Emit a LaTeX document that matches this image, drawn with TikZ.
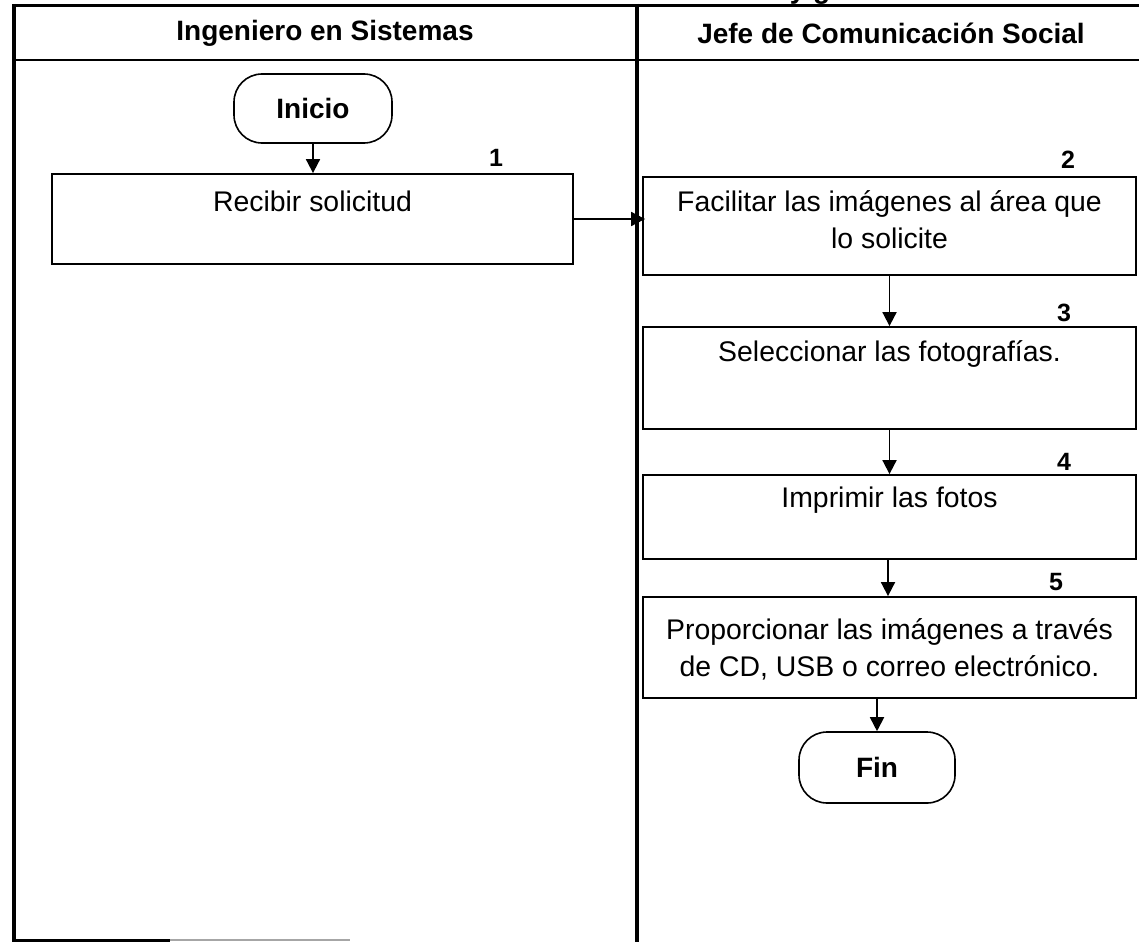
\documentclass[tikz,border=0pt]{standalone}
\usepackage{fontspec}
\setmainfont{Liberation Sans}
\usetikzlibrary{arrows.meta}
\begin{document}
\begin{tikzpicture}[x=1pt,y=-1pt,
  frame/.style={line width=4pt},
  thinframe/.style={line width=2pt},
  stepbox/.style={draw,line width=1.8pt,minimum width=#1,inner sep=0pt},
  term/.style={draw,line width=1.6pt,rounded corners=28pt,inner sep=0pt,font=\fontsize{28}{32}\selectfont\bfseries},
  body/.style={font=\fontsize{28.4}{37}\selectfont,align=center,inner sep=0pt},
  head/.style={font=\fontsize{28}{32}\selectfont\bfseries,inner sep=0pt},
  num/.style={font=\fontsize{25}{28}\selectfont\bfseries,inner sep=0pt},
  flow/.style={line width=1.8pt,-{Triangle[length=14pt,width=14pt]}}]
\useasboundingbox (0,0) rectangle (1139,942);
% cut-off title fragment
\node[head,anchor=base] (ttl) at (810,-1) {y g};
% lanes
\draw[line width=3.5pt] (12,5.5) -- (1139,5.5);
\draw[frame] (14,4) -- (14,942);
\draw[thinframe] (14,60) -- (1139,60);
\draw[frame] (637,4) -- (637,942);
\draw[line width=3pt] (12,940) -- (170,940);
\draw[line width=2pt,black!35] (170,940) -- (350,940);
\node[head] (h1) at (325,33) {Ingeniero en Sistemas};
\node[head] (h2) at (891,33) {Jefe de Comunicación Social};
% terminals
\node[term,minimum width=158pt,minimum height=69pt] (ini) at (313,108.5) {Inicio};
\node[term,minimum width=156pt,minimum height=71pt] (fin) at (877,767.5) {Fin};
% steps
\node[stepbox=521pt,minimum height=90pt] (b1) at (312.5,219) {};
\node[body,anchor=base] (t1) at ([yshift=-38pt]b1.north) {Recibir solicitud};
\node[stepbox=493pt,minimum height=98pt] (b2) at (889.5,226) {};
\node[body] (t2) at ([yshift=6pt]b2.center) {Facilitar las imágenes al área que\\lo solicite};
\node[stepbox=493pt,minimum height=102pt] (b3) at (889.5,378) {};
\node[body,anchor=base] (t3) at ([yshift=-35pt]b3.north) {Seleccionar las fotografías.};
\node[stepbox=493pt,minimum height=84pt] (b4) at (889.5,517) {};
\node[body,anchor=base] (t4) at ([yshift=-33pt]b4.north) {Imprimir las fotos};
\node[stepbox=493pt,minimum height=101pt] (b5) at (889.5,647.5) {};
\node[body] (t5) at ([yshift=-2pt]b5.center) {Proporcionar las imágenes a través\\de CD, USB o correo electrónico.};
% numbers
\node[num] (n1) at (496,158) {1};
\node[num] (n2) at (1068,160) {2};
\node[num] (n3) at (1064,313) {3};
\node[num] (n4) at (1064,462) {4};
\node[num] (n5) at (1056,582) {5};
% connectors
\draw[flow] (ini.south) -- (ini.south |- b1.north);
\draw[flow] (b1.east) -- ([xshift=3pt]b1.east -| b2.west);
\draw[flow] (b2.south) -- (b3.north);
\draw[flow] (b3.south) -- (b4.north);
\draw[flow] ([xshift=-1.5pt]b4.south) -- ([xshift=-1.5pt]b5.north);
\draw[flow] (b5.south -| fin.north) -- (fin.north);
\end{tikzpicture}
\end{document}
